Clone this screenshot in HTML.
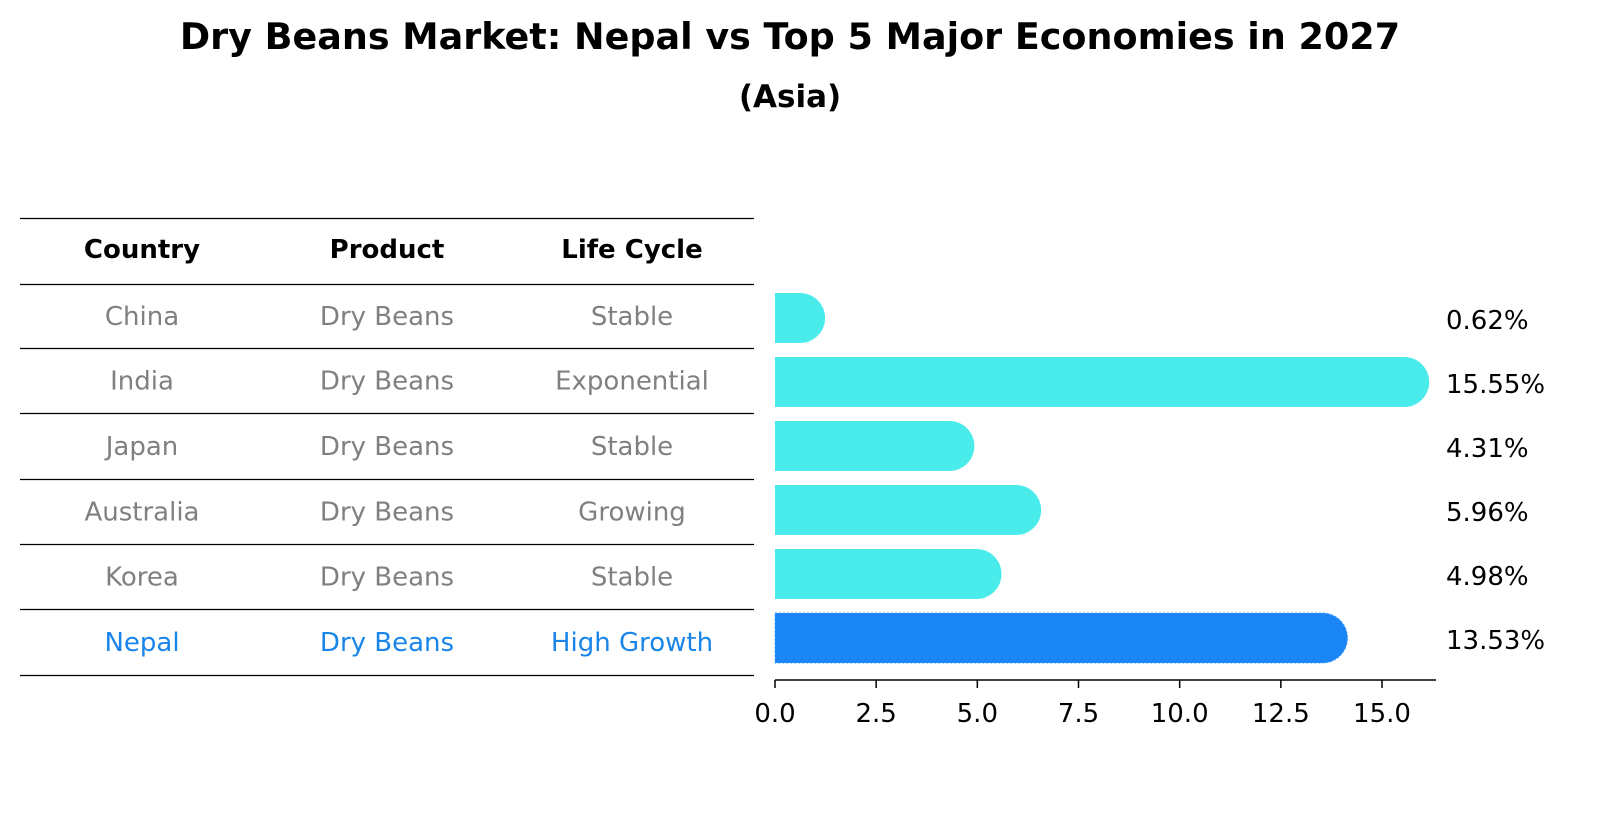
<!DOCTYPE html>
<html><head><meta charset="utf-8"><style>
body{margin:0;background:#fff;}
svg{display:block;font-family:"DejaVu Sans","Liberation Sans",sans-serif;}
</style></head><body>
<svg id="chart" width="1604" height="823" viewBox="0 0 1604 823">
<text x="790" y="49" text-anchor="middle" font-size="36.5" font-weight="bold">Dry Beans Market: Nepal vs Top 5 Major Economies in 2027</text>
<text x="790" y="107" text-anchor="middle" font-size="31" font-weight="bold">(Asia)</text>
<g id="table"></g>
<g id="bars"></g>
</svg>
<script>
const countries=["China","India","Japan","Australia","Korea","Nepal"];
const products=["Dry Beans","Dry Beans","Dry Beans","Dry Beans","Dry Beans","Dry Beans"];
const lifeCycles=["Stable","Exponential","Stable","Growing","Stable","High Growth"];
const growth=[0.62,15.55,4.31,5.96,4.98,13.53];
const xTicks=[0,2.5,5,7.5,10,12.5,15];
const NS="http://www.w3.org/2000/svg";
function mk(tag,attrs,parent,text){const e=document.createElementNS(NS,tag);for(const k in attrs)e.setAttribute(k,attrs[k]);if(text!==undefined)e.textContent=text;parent.appendChild(e);return e;}
const tbl=document.getElementById('table');
const lineYs=[218,284,348,413,479,544,609,675];
lineYs.forEach((y,i)=>{const l=mk('line',{x1:20,x2:754,y1:y+0.5,y2:y+0.5,stroke:'#000','stroke-width':1.2},tbl);

});
const colX=[142,387,632];
["Country","Product","Life Cycle"].forEach((h,i)=>{const t=mk('text',{x:colX[i],y:258,'text-anchor':'middle','font-size':26,'font-weight':'bold'},tbl,h);

});
const rowY=y=>(lineYs[y+1]+lineYs[y+2])/2+9;
countries.forEach((c,i)=>{const col=c==="Nepal"?'#1a85e8':'#808080';
[c,products[i],lifeCycles[i]].forEach((v,j)=>{const t=mk('text',{x:colX[j],y:rowY(i),'text-anchor':'middle','font-size':26,fill:col},tbl,v);

});});
const bars=document.getElementById('bars');
const x0=775,pxPerUnit=607/15;
const xs=v=>x0+v*pxPerUnit;
const barCenter=i=>318+i*64;
const r=25;
growth.forEach((v,i)=>{const cy=barCenter(i),xe=xs(v);const nepal=countries[i]==="Nepal";
const p=mk('path',{d:`M${x0},${cy-r} L${xe},${cy-r} A${r},${r} 0 0 1 ${xe},${cy+r} L${x0},${cy+r} Z`,fill:nepal?'#1a85f5':'#4aeceb'},bars);
if(nepal){p.setAttribute('stroke','#4aa0ff');p.setAttribute('stroke-dasharray','2,2');p.setAttribute('stroke-width','1');}


const t=mk('text',{x:1446,y:cy+11,'font-size':26},bars,v.toFixed(2)+'%');

});
const ax=mk('line',{x1:x0,x2:1436,y1:680,y2:680,stroke:'#000','stroke-width':1.5},bars);


xTicks.forEach(v=>{const tk=mk('line',{x1:xs(v),x2:xs(v),y1:680,y2:688,stroke:'#000','stroke-width':1.5},bars);


const tl=mk('text',{x:xs(v),y:722,'text-anchor':'middle','font-size':26},bars,v.toFixed(1));

});
</script>
</body></html>
